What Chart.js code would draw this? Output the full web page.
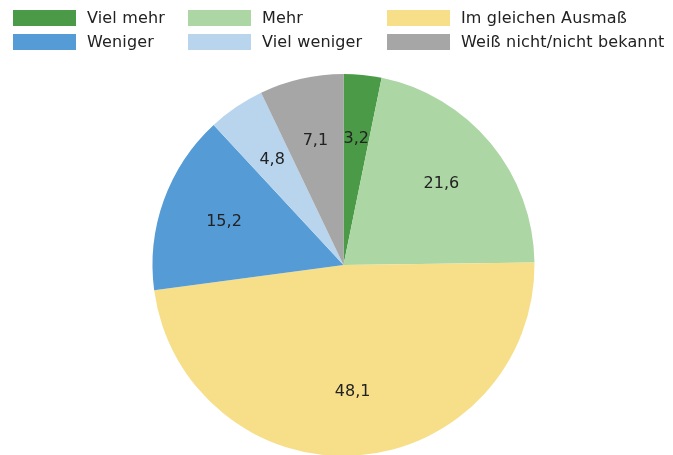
<!DOCTYPE html>
<html><head><meta charset="utf-8">
<script src="https://cdn.jsdelivr.net/npm/chart.js@4"></script>
<style>
html,body{margin:0;padding:0;background:#fff;overflow:hidden;width:673px;height:455px;}
#wrap{position:relative;width:673px;height:470px;}
#legend{position:absolute;left:0;top:0;width:673px;height:60px;font-family:"DejaVu Sans",sans-serif;font-size:16px;letter-spacing:0.15px;color:#222;}
.item{position:absolute;height:18px;line-height:18px;white-space:nowrap;}
.box{position:absolute;left:0;top:1px;width:63px;height:16px;}
.lab{position:absolute;top:0;}
</style></head>
<body>
<div id="wrap">
<canvas id="c" width="673" height="470" style="position:absolute;left:0;top:0;"></canvas>
<div id="legend"></div>
</div>
<script>
const categories = ["Viel mehr","Mehr","Im gleichen Ausmaß","Weniger","Viel weniger","Weiß nicht/nicht bekannt"];
const values = [3.2, 21.6, 48.1, 15.2, 4.8, 7.1];
const colors = ["#4a9a48","#acd6a4","#f7df8a","#559bd6","#b9d5ee","#a6a6a6"];

// legend (3 columns, 2 rows)
const legendPos = [[13,9],[188,9],[387,9],[13,33],[188,33],[387,33]];
const leg = document.getElementById('legend');
categories.forEach((name,i)=>{
  const d=document.createElement('div');d.className='item';
  d.style.left=legendPos[i][0]+'px';d.style.top=legendPos[i][1]+'px';
  const b=document.createElement('div');b.className='box';b.style.background=colors[i];
  const t=document.createElement('div');t.className='lab';t.style.left='74px';t.textContent=name;
  d.appendChild(b);d.appendChild(t);leg.appendChild(d);
});

const labelPlugin = {
  id:'sliceLabels',
  afterDatasetsDraw(chart){
    const ctx=chart.ctx;
    const meta=chart.getDatasetMeta(0);
    ctx.save();
    ctx.font='16px "DejaVu Sans", sans-serif';
    ctx.fillStyle='#222';
    ctx.textAlign='center';ctx.textBaseline='middle';
    meta.data.forEach((arc,i)=>{
      const p=arc.getProps(['x','y','startAngle','endAngle','outerRadius'],true);
      const a=(p.startAngle+p.endAngle)/2;
      const r=p.outerRadius*0.665;
      ctx.fillText(values[i].toFixed(1).replace('.',','), p.x+Math.cos(a)*r, p.y+Math.sin(a)*r);
    });
    ctx.restore();
  }
};

new Chart(document.getElementById('c'),{
  type:'pie',
  data:{labels:categories,datasets:[{data:values,backgroundColor:colors,borderWidth:0}]},
  options:{
    responsive:false,animation:false,
    layout:{padding:{left:152,right:138,top:74,bottom:14}},
    plugins:{legend:{display:false},tooltip:{enabled:false}}
  },
  plugins:[labelPlugin]
});
</script>
</body></html>
